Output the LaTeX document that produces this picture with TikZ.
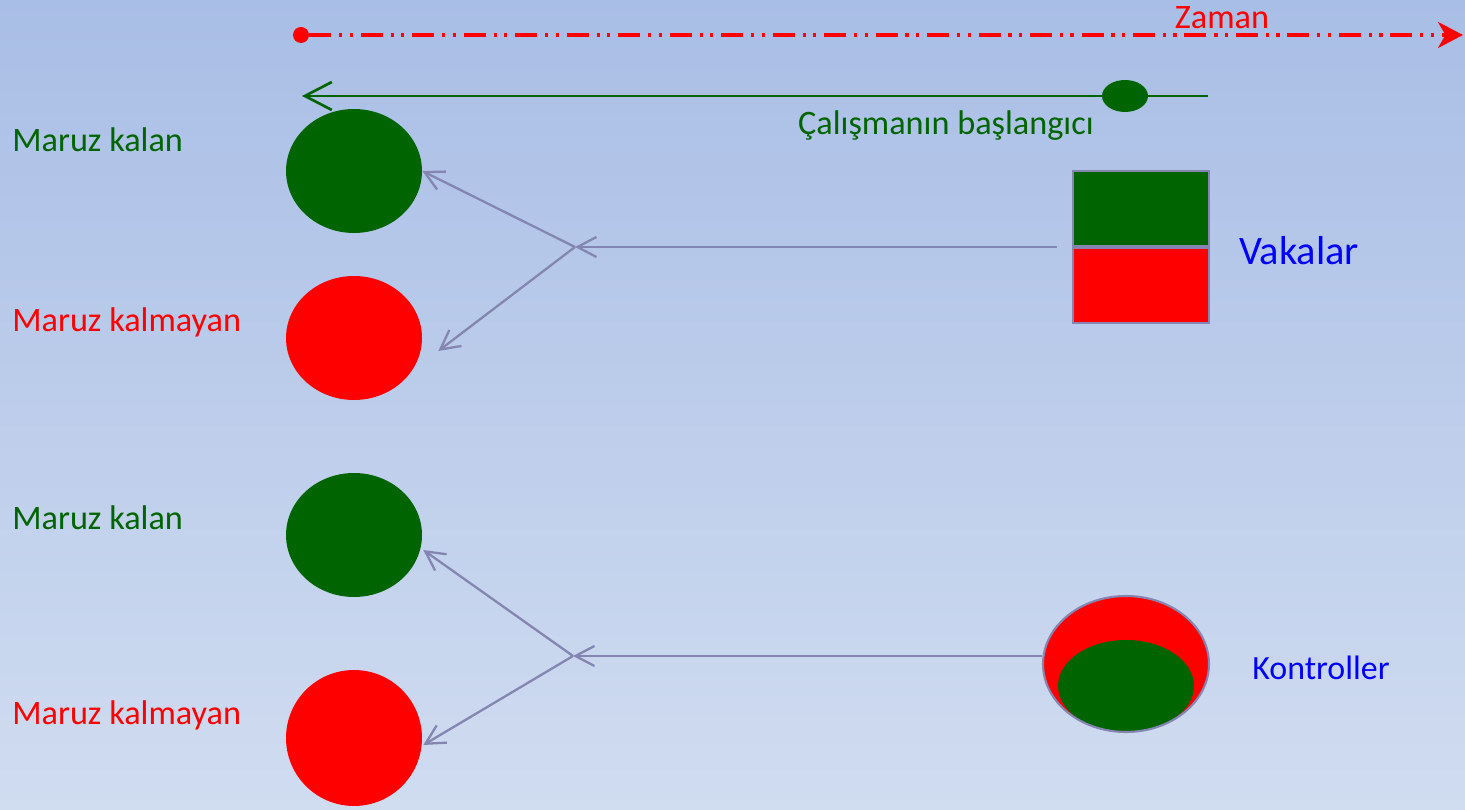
\documentclass[tikz,border=0pt]{standalone}
\usepackage{fontspec}
\setmainfont{Carlito}
\usetikzlibrary{shapes, arrows.meta, calc, positioning}
\definecolor{kgreen}{RGB}{0,100,0}
\definecolor{kred}{RGB}{255,0,0}
\definecolor{kblue}{RGB}{0,0,255}
\definecolor{kslate}{RGB}{133,133,178}
\definecolor{bgtop}{RGB}{169,190,230}
\definecolor{bgbot}{RGB}{208,220,240}

\begin{document}
\begin{tikzpicture}[x=0.02cm, y=-0.02cm,
    blob/.style={ellipse, inner sep=0pt, minimum width=2.72cm, minimum height=2.48cm},
    lbl/.style={anchor=west, inner sep=0pt, font=\fontsize{19.5pt}{23pt}\selectfont},
    txt/.style={inner sep=0pt, font=\fontsize{19.5pt}{23pt}\selectfont},
    link/.style={draw=kslate, line width=1.3pt, -{Straight Barb[length=0.38cm, width=0.4cm]}},
    half/.style={rectangle, draw=kslate, line width=1.2pt, minimum width=2.72cm, minimum height=1.5cm, inner sep=0pt}]

    \shade[top color=bgtop, bottom color=bgbot] (0,0) rectangle (1465,810);
    \useasboundingbox (0,0) rectangle (1465,810);

    \node[circle, fill=kred, inner sep=0pt, minimum size=0.32cm] (zStart) at (301,35) {};
    \coordinate (zEnd) at (1463,35);
    \draw[kred, line width=1.8pt, dash pattern=on 12.5pt off 4.5pt on 1.8pt off 4.2pt on 1.8pt off 4.5pt,
          -{Stealth[length=0.5cm, width=0.52cm, inset=0.15cm]}] (zStart) -- (zEnd);
    \node[txt, text=kred] (zLbl) at (1222,18) {Zaman};

    \coordinate (sRight) at (1208,96);
    \coordinate (sLeft) at (302,96);
    \draw[kgreen, line width=1.5pt, -{Straight Barb[length=0.54cm, width=0.56cm]}] (sRight) -- (sLeft);
    \node[ellipse, fill=kgreen, inner sep=0pt, minimum width=0.92cm, minimum height=0.64cm] (sDot) at (1125,96) {};
    \node[txt, text=kgreen] (sLbl) at (946,126) {Çalışmanın başlangıcı};

    \node[blob, fill=kgreen] (gA) at (354,171) {};
    \node[blob, fill=kred] (rA) at (354,338) {};
    \node[blob, fill=kgreen] (gB) at (354,535) {};
    \node[blob, fill=kred, minimum height=2.72cm] (rB) at (354,738) {};

    \node[lbl, text=kgreen] (lgA) at (12,140) {Maruz kalan};
    \node[lbl, text=kred] (lrA) at (12,322) {Maruz kalmayan};
    \node[lbl, text=kgreen] (lgB) at (12,518) {Maruz kalan};
    \node[lbl, text=kred] (lrB) at (12,715) {Maruz kalmayan};

    \node[half, fill=kgreen, anchor=south west] (vTop) at (1072,247) {};
    \node[half, fill=kred, below=0pt of vTop] (vBot) {};
    \node[txt, text=kblue, font=\fontsize{23pt}{27pt}\selectfont] (vLbl) at (1299,251) {Vakalar};

    \node[ellipse, draw=kslate, line width=1.2pt, fill=kred, inner sep=0pt,
          minimum width=3.32cm, minimum height=2.72cm,
          path picture={\fill[kgreen] ($(path picture bounding box.center)+(0,22)$) ellipse [x radius=1.36cm, y radius=0.92cm];}]
          (kOuter) at (1126,664) {};
    \node[txt, text=kblue, font=\fontsize{19.3pt}{23pt}\selectfont] (kLbl) at (1321,668) {Kontroller};

    \coordinate (jA) at (575,247);
    \draw[link, shorten <=0.3cm] (vTop.south west) -- (jA);
    \draw[link] (jA) -- (gA.east);
    \draw[link] (jA) -- ($(rA.east)+(16,13)$);

    \coordinate (jB) at (573,656);
    \draw[link] (kOuter.west |- jB) -- (jB);
    \draw[link] (jB) -- ($(gB.east)+(1,15)$);
    \draw[link] (jB) -- ($(rB.east)+(1,7)$);

\end{tikzpicture}
\end{document}
